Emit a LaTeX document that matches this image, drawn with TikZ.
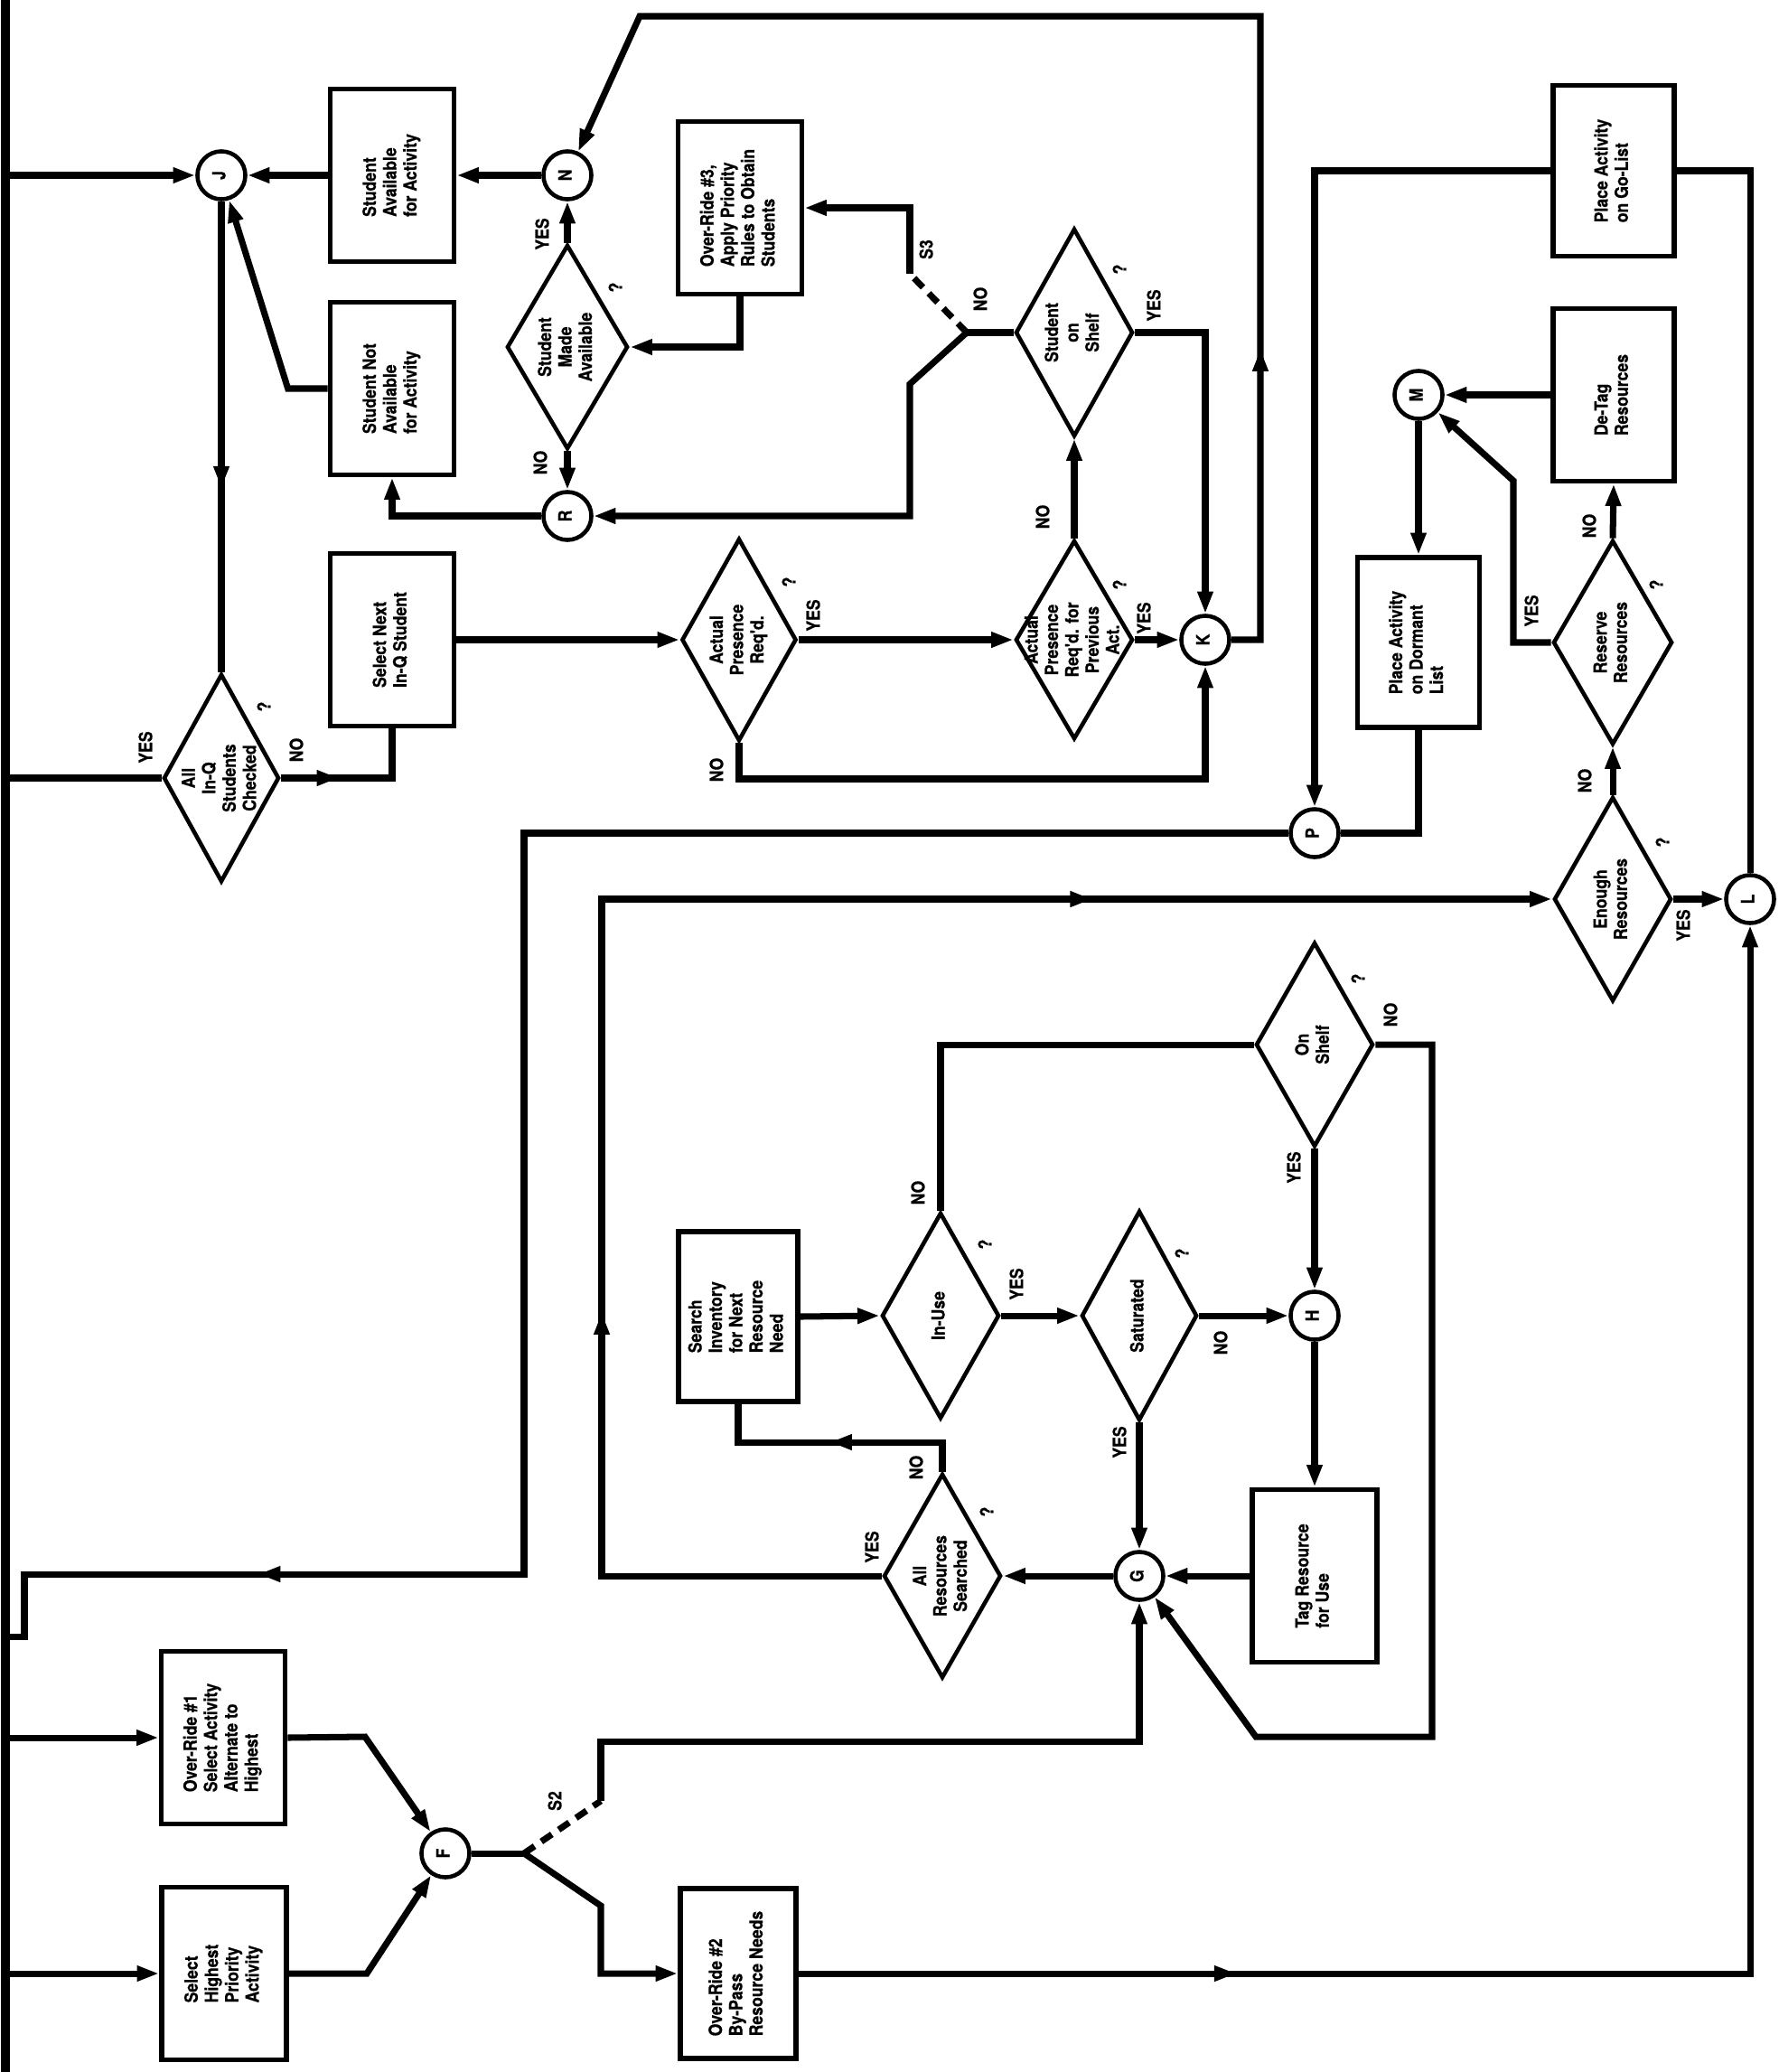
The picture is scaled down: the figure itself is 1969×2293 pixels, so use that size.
\documentclass[tikz,border=0pt]{standalone}
\usepackage{fontspec}
\usepackage{graphicx}
\usetikzlibrary{shapes.geometric,arrows.meta,decorations.markings,calc}
\newfontfamily\ff{TeX Gyre Heros}[FakeStretch=0.88, BoldFeatures={FakeBold=0.6}]
\newcommand\rtl[1]{\smash{\makebox[0pt]{\raisebox{-.5\height}{\rotatebox{90}{\begin{tabular}{@{}l@{}}#1\end{tabular}}}}}}
\newcommand\rtc[1]{\smash{\makebox[0pt]{\raisebox{-.5\height}{\rotatebox{90}{\begin{tabular}{@{}c@{}}#1\end{tabular}}}}}}
\begin{document}
\begin{tikzpicture}[x=0.01cm,y=-0.01cm,
  every node/.style={font=\ff\bfseries\fontsize{5.7}{6.4}\selectfont, inner sep=0pt},
  proc/.style={draw, rectangle, line width=1.6pt, minimum width=1.37cm, minimum height=1.91cm},
  dec/.style={draw, diamond, line width=1.3pt},
  jn/.style={draw, circle, line width=1.3pt, minimum size=0.53cm},
  lab/.style={rotate=90},
  conn/.style={line width=2pt},
  arr/.style={conn, -{Triangle[length=7pt,width=4.6pt]}},
  dsh/.style={conn, dash pattern=on 4pt off 2.6pt},
  midarr/.style={postaction={decorate}, decoration={markings, mark=at position #1 with {\arrow{Triangle[length=7pt,width=4.6pt]}}}},
  midtwo/.style 2 args={postaction={decorate}, decoration={markings, mark=at position #1 with {\arrow{Triangle[length=7pt,width=4.6pt]}}, mark=at position #2 with {\arrow{Triangle[length=7pt,width=4.6pt]}}}}
]
\useasboundingbox (0,0) rectangle (1969,2293);

% ---- connectors (junction circles)
\node[jn] (J) at (245,194) {\rtc{J}};
\node[jn] (N) at (628,194) {\rtc{N}};
\node[jn] (R) at (628,571) {\rtc{R}};
\node[jn] (K) at (1334,708) {\rtc{K}};
\node[jn] (M) at (1570,437) {\rtc{M}};
\node[jn] (P) at (1455,922) {\rtc{P}};
\node[jn] (L) at (1937,995) {\rtc{L}};
\node[jn] (H) at (1455,1456) {\rtc{H}};
\node[jn] (G) at (1261,1744) {\rtc{G}};
\node[jn] (F) at (493,2051) {\rtc{F}};

% ---- process boxes
\node[proc] (sAvail) at (434,194) {\rtl{Student\\Available\\for Activity}};
\node[proc] (sNot) at (434,430) {\rtl{Student Not\\Available\\for Activity}};
\node[proc] (selNext) at (434,708) {\rtl{Select Next\\In-Q Student}};
\node[proc] (ovr3) at (819,230) {\rtl{Over-Ride \#3,\\Apply Priority\\Rules to Obtain\\Students}};
\node[proc, minimum width=1.34cm, minimum height=1.89cm] (goList) at (1786,189) {\rtl{Place Activity\\on Go-List}};
\node[proc, minimum width=1.34cm] (deTag) at (1786,437) {\rtl{De-Tag\\Resources}};
\node[proc, minimum width=1.35cm, minimum height=1.88cm] (dorm) at (1570,711) {\rtl{Place Activity\\on Dormant\\List}};
\node[proc, minimum width=1.32cm, minimum height=1.88cm] (search) at (817,1457) {\rtl{Search\\Inventory\\for Next\\Resource\\Need}};
\node[proc, minimum width=1.38cm] (tag) at (1455,1744) {\rtl{Tag Resource\\for Use}};
\node[proc] (ovr1) at (247,1923) {\rtl{Over-Ride \#1\\Select Activity\\Alternate to\\Highest}};
\node[proc, minimum width=1.38cm] (selHigh) at (248,2184) {\rtl{Select\\Highest\\Priority\\Activity}};
\node[proc, minimum width=1.28cm, minimum height=1.88cm] (ovr2) at (817,2184) {\rtl{Over-Ride \#2\\By-Pass\\Resource Needs}};

% ---- decisions
\node[dec, minimum width=1.28cm, minimum height=2.30cm] (allq) at (245,861) {\rtc{All\\In-Q\\Students\\Checked}};
\node[dec, minimum width=1.34cm, minimum height=2.26cm] (made) at (628,384) {\rtc{Student\\Made\\Available}};
\node[dec, minimum width=1.27cm, minimum height=2.24cm] (apr) at (818,708) {\rtc{Actual\\Presence\\Req'd.}};
\node[dec, minimum width=1.30cm, minimum height=2.20cm] (aprp) at (1189,708) {\rtc{Actual\\Presence\\Req'd. for\\Previous\\Act.}};
\node[dec, minimum width=1.30cm, minimum height=2.30cm] (shelfS) at (1189,368) {\rtc{Student\\on\\Shelf}};
\node[dec, minimum width=1.32cm, minimum height=2.26cm] (reserve) at (1785,711) {\rtc{Reserve\\Resources}};
\node[dec, minimum width=1.30cm, minimum height=2.26cm] (enough) at (1785,995) {\rtc{Enough\\Resources}};
\node[dec, minimum width=1.30cm, minimum height=2.26cm] (onShelf) at (1455,1156) {\rtc{On\\Shelf}};
\node[dec, minimum width=1.30cm, minimum height=2.28cm] (inuse) at (1041,1456) {\rtc{In-Use}};
\node[dec, minimum width=1.28cm, minimum height=2.32cm] (satur) at (1261,1456) {\rtc{Saturated}};
\node[dec, minimum width=1.30cm, minimum height=2.26cm] (allres) at (1043,1744) {\rtc{All\\Resources\\Searched}};

% ---- helper coordinates
\coordinate (barTop) at (6,0);
\coordinate (barBot) at (6,2293);
\coordinate (barP) at (6,1811);
\coordinate (kb) at (1334,862);
\coordinate (jS3) at (1070,368);
\coordinate (s3a) at (1007,303);
\coordinate (s3b) at (1007,425);
\coordinate (topR) at (1395,18);
\coordinate (topL) at (708,18);
\coordinate (resC) at (1675,532);
\coordinate (pA) at (580,1742);
\coordinate (pB) at (27,1811);
\coordinate (eA) at (666,995);
\coordinate (srA) at (817,1596);
\coordinate (osA) at (1585,1922);
\coordinate (osB) at (1390,1922);
\coordinate (fA) at (404,1922);
\coordinate (fB) at (406,2184);
\coordinate (jS2) at (580,2051);
\coordinate (s2a) at (665,1993);
\coordinate (s2b) at (1261,1927);
\coordinate (s2c) at (665,2109);

% ---- left main line
\draw[line width=2.8pt] (barTop) -- (barBot);

% ---- student part
\draw[arr] (barTop |- J) -- (J);
\draw[arr] (sAvail) -- (J);
\draw[arr] (N) -- (sAvail);
\draw[arr] (sNot.west) -- ++(-44,0) -- (J);
\draw[conn, midarr=0.61] (J) -- (allq.north);
\draw[conn] (allq.west) -- (barTop |- allq.west);
\draw[conn, midarr=0.36] (allq.east) -| (selNext.south);
\draw[arr] (selNext.east) -- (apr.west);
\draw[arr] (apr.east) -- (aprp.west);
\draw[arr] (apr.south) |- (kb) -- (K.south);
\draw[arr] (aprp.east) -- (K.west);
\draw[arr] (aprp.north) -- (shelfS.south);
\draw[arr] (shelfS.east) -| (K.north);
\draw[conn] (shelfS.west) -- (jS3);
\draw[dsh] (jS3) -- (s3a);
\draw[arr] (s3a) |- (ovr3.east);
\draw[arr] (jS3) -- (s3b) |- (R.east);
\draw[arr] (ovr3.south) |- (made.east);
\draw[arr] (made.north) -- (N.south);
\draw[arr] (made.south) -- (R.north);
\draw[arr] (R.west) -| (sNot.south);
\draw[arr, midarr=0.225] (K.east) -| (topR) -- (topL) -- (N);

% ---- activity lists
\draw[arr] (goList.west) -| (P.north);
\draw[conn] (L.north) |- (goList.east);
\draw[arr] (deTag.west) -- (M.east);
\draw[arr] (M.south) -- (dorm.north);
\draw[arr] (reserve.west) -| (resC) -- (M);
\draw[arr] (reserve.north) -- (deTag.south);
\draw[conn] (dorm.south) |- (P.east);
\draw[conn, midarr=0.849] (P.west) -| (pA) -| (pB) -- (barP);
\draw[arr] (enough.north) -- (reserve.south);
\draw[arr] (enough.east) -- (L.west);

% ---- resource part
\draw[arr, midtwo={0.285}{0.759}] (allres.west) -| (eA) -- (enough.west);
\draw[conn, midarr=0.523] (allres.north) |- (srA) -- (search.south);
\draw[arr] (search.east) -- (inuse.west);
\draw[arr] (inuse.east) -- (satur.west);
\draw[conn] (inuse.north) |- (onShelf.west);
\draw[arr] (satur.east) -- (H.west);
\draw[arr] (satur.south) -- (G.north);
\draw[arr] (onShelf.south) -- (H.north);
\draw[arr] (onShelf.east) -| (osA) -- (osB) -- (G);
\draw[arr] (H.south) -- (tag.north);
\draw[arr] (tag.west) -- (G.east);
\draw[arr] (G.west) -- (allres.east);

% ---- activity selection
\draw[arr] (barTop |- ovr1.west) -- (ovr1.west);
\draw[arr] (barTop |- selHigh.west) -- (selHigh.west);
\draw[arr] (ovr1.east) -- (fA) -- (F);
\draw[arr] (selHigh.east) -- (fB) -- (F);
\draw[conn] (F.east) -- (jS2);
\draw[dsh] (jS2) -- (s2a);
\draw[arr] (s2a) |- (s2b) -- (G.south);
\draw[arr] (jS2) -- (s2c) |- (ovr2.west);
\draw[arr, midarr=0.219] (ovr2.east) -| (L.south);

% ---- labels
\node[lab] (l1) at (161,827) {YES};
\node[lab] (l2) at (292,782) {?};
\node[lab] (l3) at (328,830) {NO};
\node[lab] (l4) at (600,259) {YES};
\node[lab] (l5) at (598,512) {NO};
\node[lab] (l6) at (681,318) {?};
\node[lab] (l7) at (1025,276) {S3};
\node[lab] (l8) at (1085,331) {NO};
\node[lab] (l9) at (1239,298) {?};
\node[lab] (l10) at (1277,338) {YES};
\node[lab] (l11) at (873,644) {?};
\node[lab] (l12) at (900,681) {YES};
\node[lab] (l13) at (793,852) {NO};
\node[lab] (l14) at (1154,572) {NO};
\node[lab] (l15) at (1239,647) {?};
\node[lab] (l16) at (1266,684) {YES};
\node[lab] (l17) at (1695,676) {YES};
\node[lab] (l18) at (1759,582) {NO};
\node[lab] (l19) at (1833,647) {?};
\node[lab] (l20) at (1754,864) {NO};
\node[lab] (l21) at (1840,932) {?};
\node[lab] (l22) at (1863,1024) {YES};
\node[lab] (l23) at (1503,1083) {?};
\node[lab] (l24) at (1539,1123) {NO};
\node[lab] (l25) at (1432,1292) {YES};
\node[lab] (l26) at (1351,1486) {NO};
\node[lab] (l27) at (1308,1387) {?};
\node[lab] (l28) at (1016,1320) {NO};
\node[lab] (l29) at (1090,1377) {?};
\node[lab] (l30) at (1125,1421) {YES};
\node[lab] (l31) at (965,1712) {YES};
\node[lab] (l32) at (1014,1624) {NO};
\node[lab] (l33) at (1092,1673) {?};
\node[lab] (l34) at (1239,1596) {YES};
\node[lab] (l35) at (614,1993) {S2};
\end{tikzpicture}
\end{document}
